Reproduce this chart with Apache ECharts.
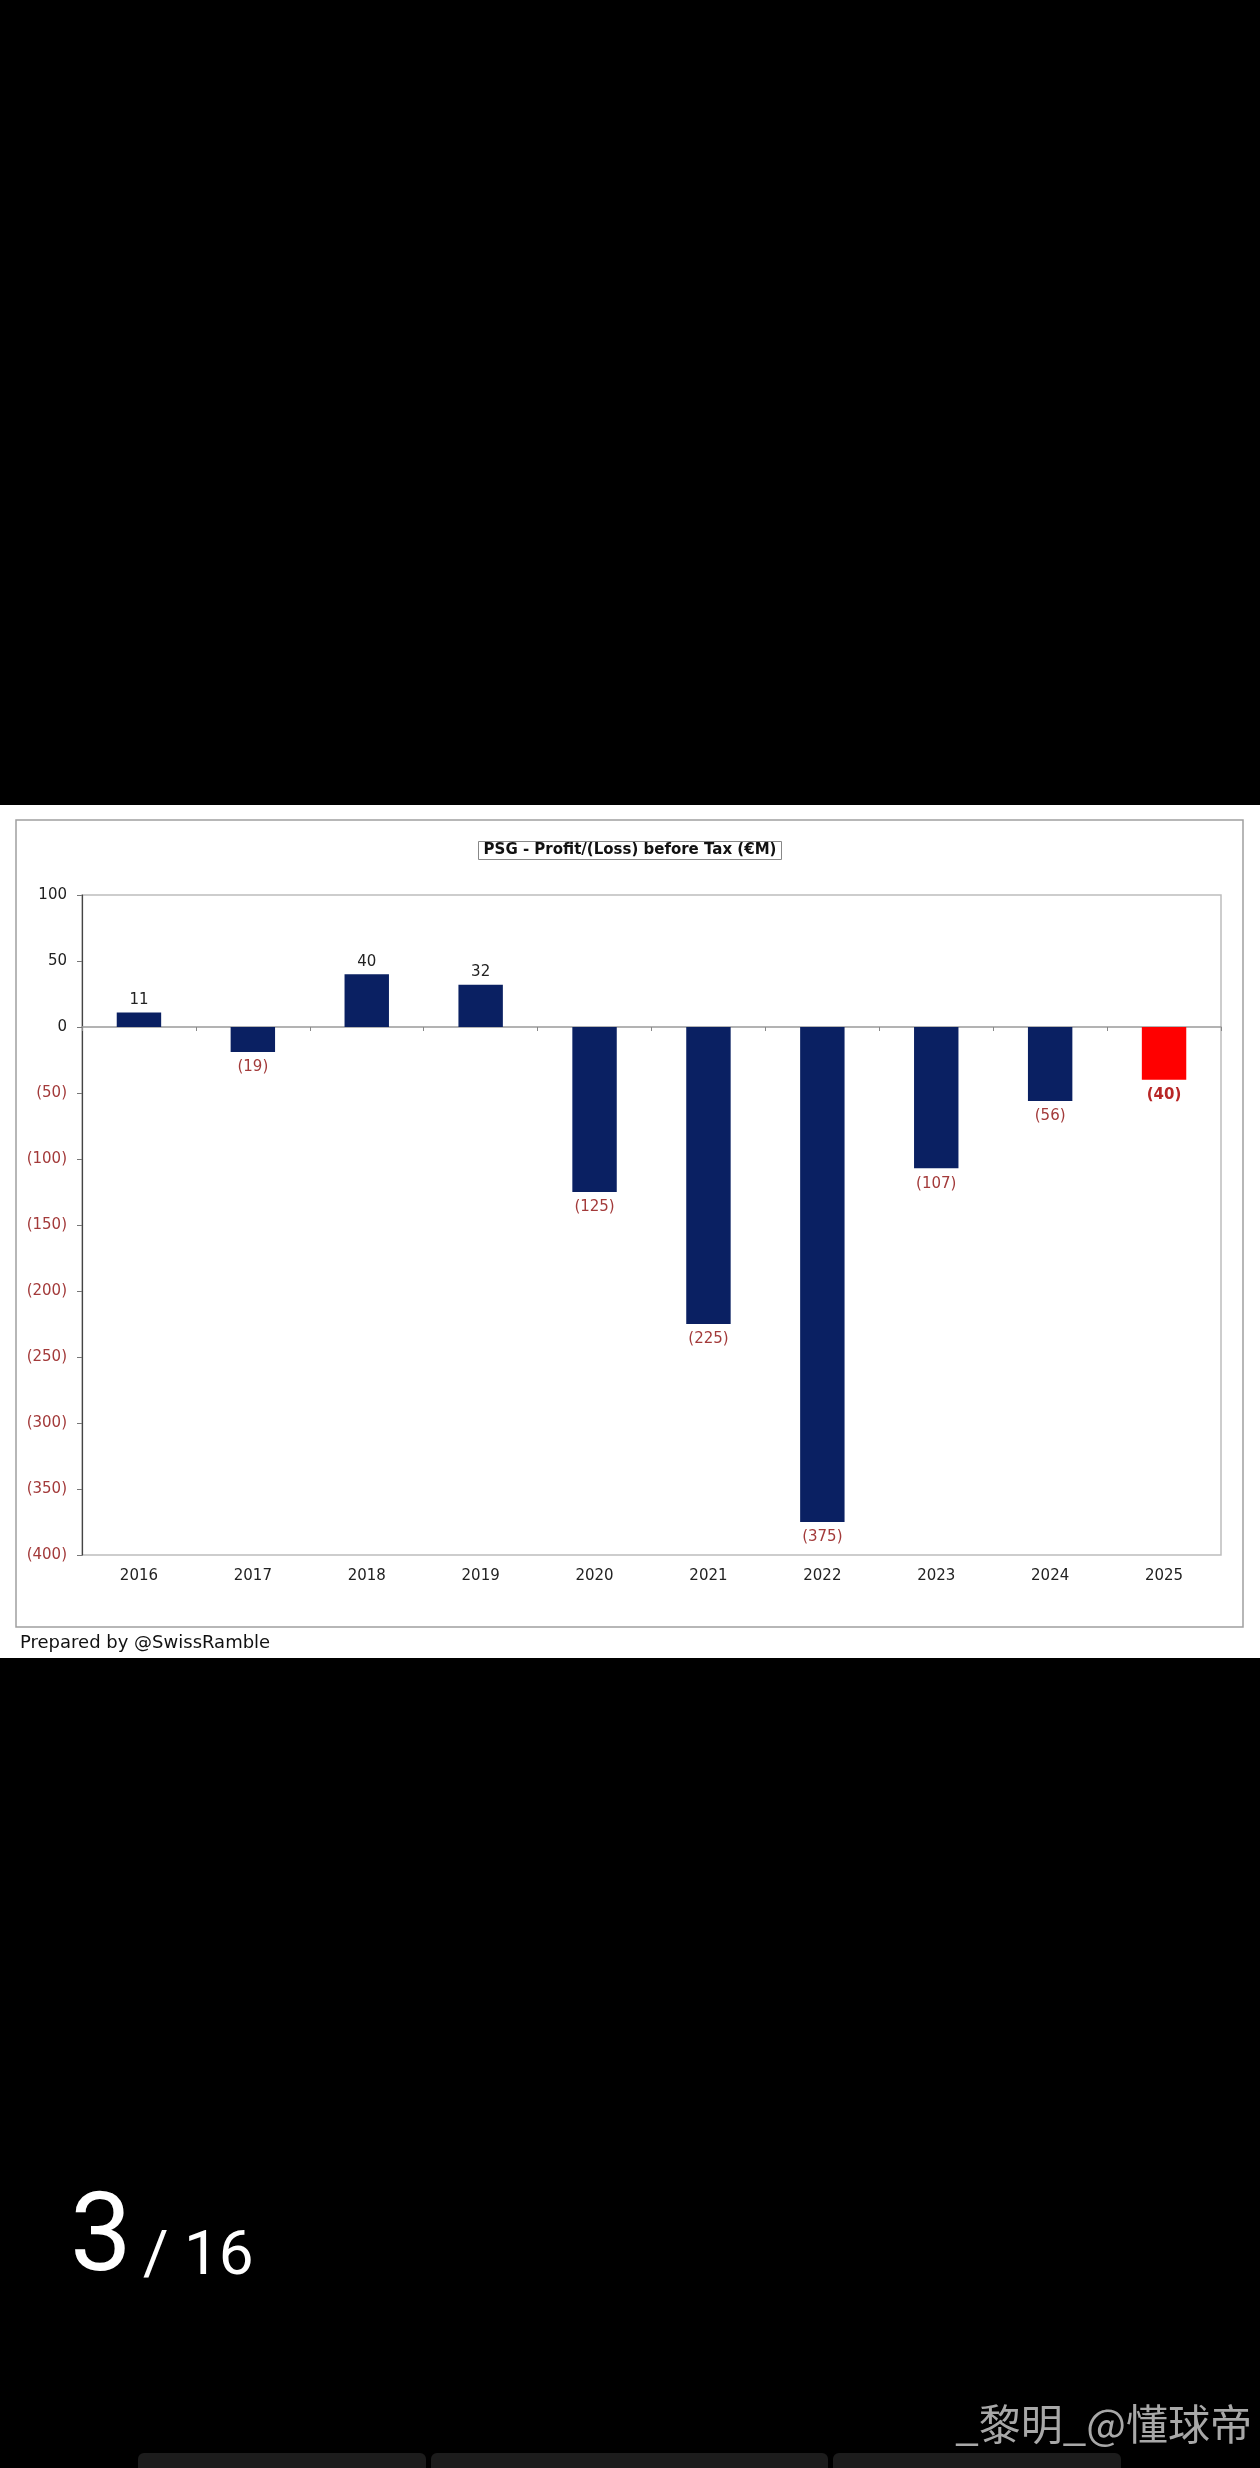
<!DOCTYPE html>
<html>
<head>
<meta charset="utf-8">
<script src="https://cdn.jsdelivr.net/npm/echarts@6/dist/echarts.min.js"></script>
<style>
  html, body { margin: 0; padding: 0; background: #000; }
  #main { width: 1260px; height: 2468px; }
</style>
</head>
<body>
<div id="main"></div>
<script>
// PSG - profit/(loss) before tax, €M
const years = ['2016', '2017', '2018', '2019', '2020', '2021', '2022', '2023', '2024', '2025'];
const profit = [11, -19, 40, 32, -125, -225, -375, -107, -56, -40];
const yMin = -400;
const yMax = 100;
const yStep = 50;

const NAVY = '#0a2062';
const RED = '#ff0000';
const LOSS_TXT = '#a33a3a';
const FONT = 'DejaVu Sans, Verdana, sans-serif';

// brackets for negatives, like the spreadsheet
const fmt = v => (v < 0 ? '(' + (-v) + ')' : String(v));

const myChart = echarts.init(document.getElementById('main'));

const barData = profit.map((v, i) => {
  const last = i === profit.length - 1;
  return {
    value: v,
    itemStyle: { color: last ? RED : NAVY },
    label: {
      position: v >= 0 ? 'top' : 'bottom',
      distance: v >= 0 ? 5 : 8,
      color: v >= 0 ? '#222' : (last ? '#b82626' : LOSS_TXT),
      fontWeight: last ? 'bold' : 'normal'
    }
  };
});

const option = {
  backgroundColor: '#000',
  animation: false,
  title: {
    text: 'PSG - Profit/(Loss) before Tax (€M)',
    left: 'center',
    top: 841,
    padding: [2, 5],
    borderColor: '#888',
    borderWidth: 1,
    backgroundColor: '#fff',
    textStyle: { fontFamily: FONT, fontSize: 15, fontWeight: 'bold', color: '#111' }
  },
  grid: {
    left: 82, right: 39, top: 895, height: 660,
    show: true, borderColor: '#bdbdbd', borderWidth: 1.5, backgroundColor: 'transparent'
  },
  xAxis: [
    {
      // category line at zero with ticks
      type: 'category',
      data: years,
      axisLine: { onZero: true, lineStyle: { color: '#9a9a9a', width: 1.5 } },
      axisTick: { show: true, length: 4, lineStyle: { color: '#888' } },
      axisLabel: { show: false }
    },
    {
      // labels along the bottom
      type: 'category',
      data: years,
      position: 'bottom',
      axisLine: { show: false, onZero: false },
      axisTick: { show: false },
      axisLabel: { margin: 14, fontFamily: FONT, fontSize: 15, color: '#222' }
    }
  ],
  yAxis: {
    type: 'value',
    min: yMin, max: yMax, interval: yStep,
    axisLine: { show: true, lineStyle: { color: '#444', width: 1.2 } },
    axisTick: { show: true, length: 5, lineStyle: { color: '#777' } },
    splitLine: { show: false },
    axisLabel: {
      margin: 15,
      fontFamily: FONT,
      fontSize: 15,
      formatter: fmt,
      color: v => (v < 0 ? LOSS_TXT : '#222')
    }
  },
  graphic: [
    { type: 'rect', z: -10, silent: true, shape: { x: 0, y: 805, width: 1260, height: 853 }, style: { fill: '#fff' } },
    { type: 'rect', z: -9, silent: true, shape: { x: 16, y: 820, width: 1227, height: 807 }, style: { fill: 'none', stroke: '#a0a0a0', lineWidth: 1.5 } },
    { type: 'text', left: 20, top: 1634, style: { text: 'Prepared by @SwissRamble', font: '18px ' + FONT, fill: '#111' } },
    { type: 'text', x: 70, y: 2242, style: { text: '3', font: '110px Roboto, sans-serif', fill: '#fff', textVerticalAlign: 'middle' } },
    { type: 'text', x: 143, y: 2258, style: { text: '/ 16', font: '62px Roboto, sans-serif', fill: '#fff', textVerticalAlign: 'middle' } },
    { type: 'rect', shape: { x: 138, y: 2453, width: 288, height: 20, r: 6 }, style: { fill: '#1c1c1c' } },
    { type: 'rect', shape: { x: 431, y: 2453, width: 397, height: 20, r: 6 }, style: { fill: '#1c1c1c' } },
    { type: 'rect', shape: { x: 833, y: 2453, width: 288, height: 20, r: 6 }, style: { fill: '#1c1c1c' } },
    { type: 'text', x: 1252, y: 2424, z: 10, style: { text: '_黎明_@懂球帝', font: '42px "Noto Sans CJK SC", sans-serif', fill: '#a8a8a8', textAlign: 'right', textVerticalAlign: 'middle' } }
  ],
  series: [
    {
      type: 'bar',
      xAxisIndex: 0,
      barWidth: '39%',
      data: barData,
      label: {
        show: true,
        fontFamily: FONT,
        fontSize: 15,
        formatter: p => fmt(p.value)
      }
    }
  ]
};

option && myChart.setOption(option);
</script>
</body>
</html>
